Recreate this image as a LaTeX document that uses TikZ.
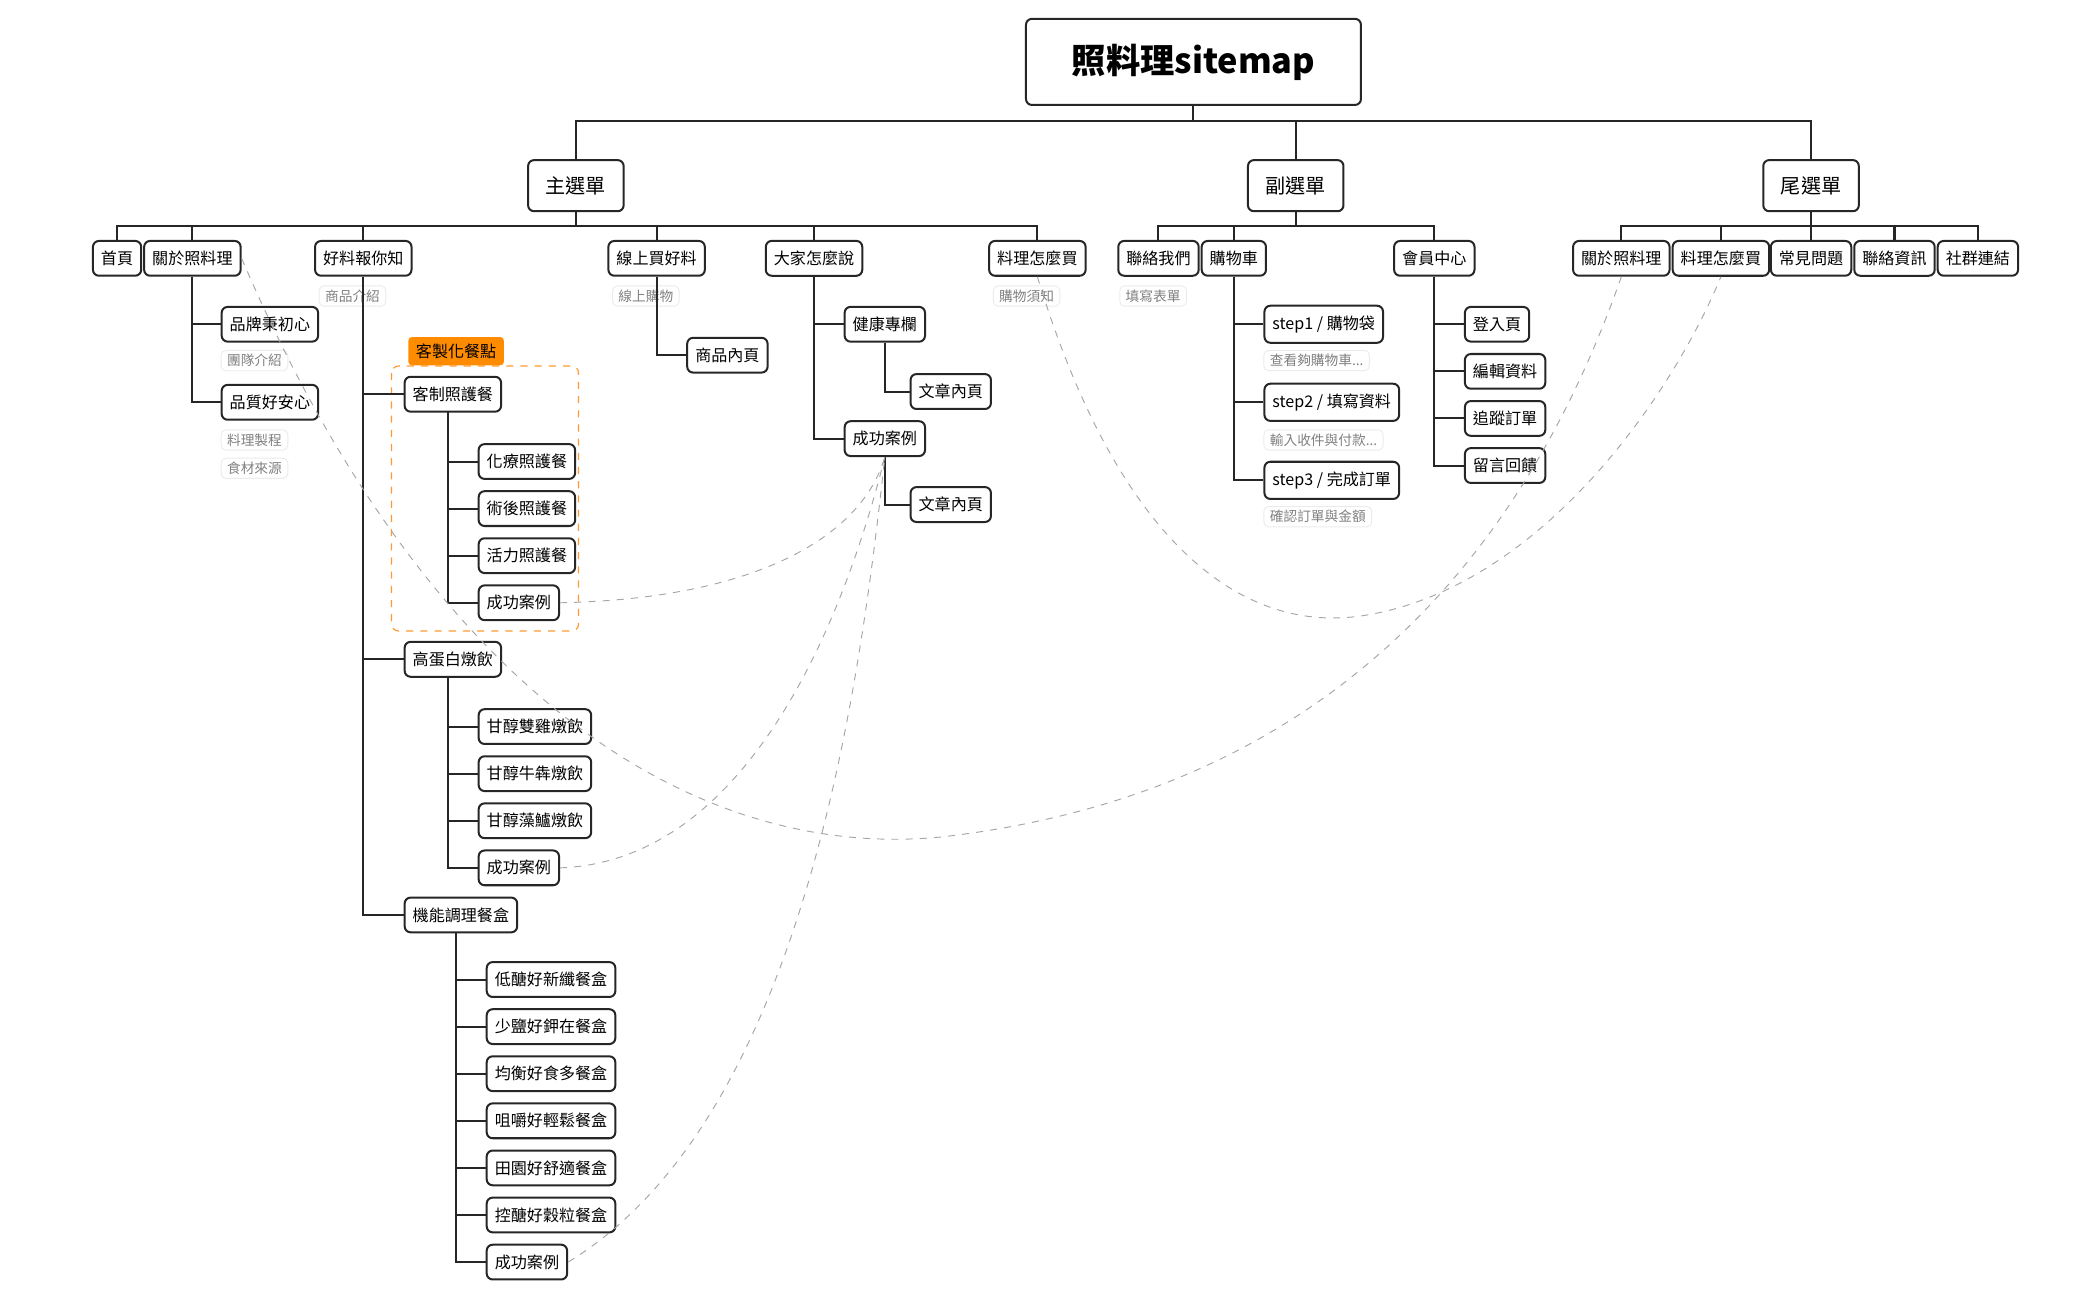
\documentclass[tikz,border=0pt]{standalone}
\usepackage{fontspec}
\setmainfont{Noto Sans CJK TC}
\usetikzlibrary{positioning}
\tikzset{
    page/.style={rounded corners=2.5pt, draw=black!85, line width=0.85pt, fill=white, inner xsep=3.4pt, inner ysep=4.2pt, font=\fontsize{6.8}{8}\selectfont}, % 頁面節點
    menu/.style={page, minimum width=1.42cm, minimum height=0.76cm, font=\fontsize{8.5}{10}\selectfont},
    note/.style={rounded corners=2pt, draw=black!8, text=black!50, inner xsep=2.5pt, inner ysep=1.6pt, font=\fontsize{5.8}{7}\selectfont},
    tree/.style={line width=0.85pt, black!85},
    link/.style={dashed, black!35, line width=0.4pt}
}
\begin{document}
\begin{tikzpicture}[x=0.02cm, y=-0.02cm]
    \useasboundingbox (0,0) rectangle (1560,966);

    % 標題與三個選單
    \node[page, minimum width=4.98cm, minimum height=1.28cm, font=\fontsize{14.5}{16}\bfseries] (title) at (887,46) {照料理sitemap};
    \node[menu] (mainm) at (428,138) {主選單};
    \node[menu] (subm) at (963,138) {副選單};
    \node[menu] (footm) at (1346,138) {尾選單};
    \foreach \m in {mainm, subm, footm} {\draw[tree] (title.south) -- ++(0,11) -| (\m.north);}

    % 主選單
    \node[page] (home) at (87,192) {首頁};
    \node[page] (about) at (143,192) {關於照料理};
    \node[page] (news) at (270,192) {好料報你知};
    \node[page] (shop) at (488,192) {線上買好料};
    \node[page] (say) at (605,192) {大家怎麼說};
    \node[page] (howbuy) at (771,192) {料理怎麼買};
    \foreach \m in {home, about, news, shop, say, howbuy} {\draw[tree] (mainm.south) -- ++(0,10) -| (\m.north);}
    \node[note] (newsn) at (262,220) {商品介紹};
    \node[note] (shopn) at (480,220) {線上購物};
    \node[note] (howbuyn) at (763,220) {購物須知};

    \node[page, anchor=west] (brand) at (164,241) {品牌秉初心};
    \node[note, anchor=west] (brandn) at (164,268) {團隊介紹};
    \node[page, anchor=west] (quality) at (164,299) {品質好安心};
    \node[note, anchor=west] (qualn1) at (164,327) {料理製程};
    \node[note, anchor=west] (qualn2) at (164,348) {食材來源};
    \foreach \c in {brand, quality} {\draw[tree] (about.south) |- (\c.west);}

    % 客製化餐點
    \draw[dashed, orange!80, line width=0.5pt, rounded corners=3pt] (291,272) rectangle (430,469);
    \node[fill=orange!90!yellow, rounded corners=1.5pt, minimum width=1.42cm, minimum height=0.42cm, inner sep=0pt, font=\fontsize{6.8}{8}\selectfont] (customtag) at (339,261) {客製化餐點};

    \node[page, anchor=west] (care) at (300,293) {客制照護餐};
    \node[page, anchor=west] (protein) at (300,490) {高蛋白燉飲};
    \node[page, anchor=west] (boxmeal) at (300,680) {機能調理餐盒};
    \foreach \c in {care, protein, boxmeal} {\draw[tree] (news.south) |- (\c.west);}

    \node[page, anchor=west] (care1) at (355,343) {化療照護餐};
    \node[page, anchor=west] (care2) at (355,378) {術後照護餐};
    \node[page, anchor=west] (care3) at (355,413) {活力照護餐};
    \node[page, anchor=west] (care4) at (355,448) {成功案例};
    \foreach \c in {care1, care2, care3, care4} {\draw[tree] (333,306) |- (\c.west);}

    \node[page, anchor=west] (prot1) at (355,540) {甘醇雙雞燉飲};
    \node[page, anchor=west] (prot2) at (355,575) {甘醇牛犇燉飲};
    \node[page, anchor=west] (prot3) at (355,610) {甘醇藻鱸燉飲};
    \node[page, anchor=west] (prot4) at (355,645) {成功案例};
    \foreach \c in {prot1, prot2, prot3, prot4} {\draw[tree] (333,503) |- (\c.west);}

    \node[page, anchor=west] (box1) at (361,728) {低醣好新纖餐盒};
    \node[page, anchor=west] (box2) at (361,763) {少鹽好鉀在餐盒};
    \node[page, anchor=west] (box3) at (361,798) {均衡好食多餐盒};
    \node[page, anchor=west] (box4) at (361,833) {咀嚼好輕鬆餐盒};
    \node[page, anchor=west] (box5) at (361,868) {田園好舒適餐盒};
    \node[page, anchor=west] (box6) at (361,903) {控醣好穀粒餐盒};
    \node[page, anchor=west] (box7) at (361,938) {成功案例};
    \foreach \c in {box1, box2, box3, box4, box5, box6, box7} {\draw[tree] (339,693) |- (\c.west);}

    \node[page, anchor=west] (item) at (510,264) {商品內頁};
    \draw[tree] (shop.south) |- (item.west);

    \node[page, anchor=west] (health) at (627,241) {健康專欄};
    \node[page, anchor=west] (cases) at (627,326) {成功案例};
    \foreach \c in {health, cases} {\draw[tree] (say.south) |- (\c.west);}
    \node[page, anchor=west] (art1) at (676,291) {文章內頁};
    \node[page, anchor=west] (art2) at (676,375) {文章內頁};
    \draw[tree] (health.south) |- (art1.west);
    \draw[tree] (cases.south) |- (art2.west);

    % 副選單
    \node[page] (contact) at (861,192) {聯絡我們};
    \node[page] (cart) at (917,192) {購物車};
    \node[page] (member) at (1066,192) {會員中心};
    \foreach \m in {contact, cart, member} {\draw[tree] (subm.south) -- ++(0,10) -| (\m.north);}
    \node[note] (contactn) at (857,220) {填寫表單};

    \node[page, anchor=west] (step1) at (939,241) {step1 / 購物袋};
    \node[note, anchor=west] (step1n) at (939,268) {查看夠購物車...};
    \node[page, anchor=west] (step2) at (939,299) {step2 / 填寫資料};
    \node[note, anchor=west] (step2n) at (939,327) {輸入收件與付款...};
    \node[page, anchor=west] (step3) at (939,357) {step3 / 完成訂單};
    \node[note, anchor=west] (step3n) at (939,384) {確認訂單與金額};
    \foreach \c in {step1, step2, step3} {\draw[tree] (cart.south) |- (\c.west);}

    \node[page, anchor=west] (login) at (1088,241) {登入頁};
    \node[page, anchor=west] (edit) at (1088,276) {編輯資料};
    \node[page, anchor=west] (track) at (1088,311) {追蹤訂單};
    \node[page, anchor=west] (reply) at (1088,346) {留言回饋};
    \foreach \c in {login, edit, track, reply} {\draw[tree] (member.south) |- (\c.west);}

    % 尾選單
    \node[page] (fabout) at (1205,192) {關於照料理};
    \node[page] (fbuy) at (1279,192) {料理怎麼買};
    \node[page] (faq) at (1346,192) {常見問題};
    \node[page] (finfo) at (1408,192) {聯絡資訊};
    \node[page] (social) at (1470,192) {社群連結};
    \foreach \m in {fabout, fbuy, faq, finfo, social} {\draw[tree] (footm.south) -- ++(0,10) -| (\m.north);}

    % 頁面連結
    \draw[link] (about.east) .. controls (320,520) and (520,640) .. (700,622) .. controls (980,590) and (1130,420) .. (fabout.south);
    \draw[link] (howbuy.south) .. controls (830,400) and (920,470) .. (1010,458) .. controls (1140,440) and (1240,300) .. (fbuy.south);
    \draw[link] (care4.east) .. controls (560,445) and (640,400) .. (cases.south);
    \draw[link] (prot4.east) .. controls (560,640) and (630,450) .. (cases.south);
    \draw[link] (box7.east) .. controls (600,830) and (640,500) .. (cases.south);
\end{tikzpicture}
\end{document}
